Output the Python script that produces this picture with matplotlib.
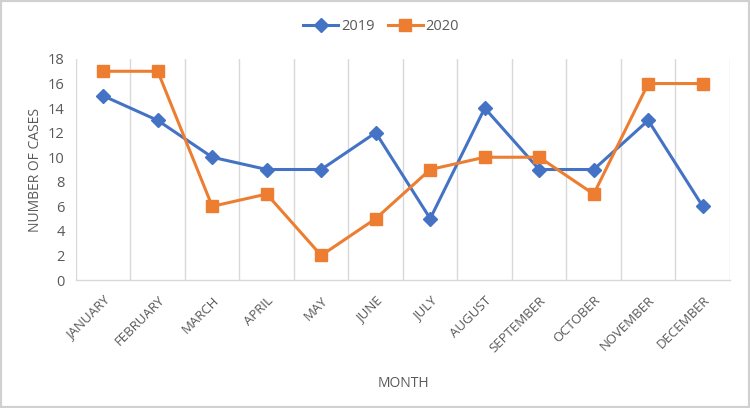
import matplotlib.pyplot as plt
from matplotlib.patches import Rectangle

# data
months = ["JANUARY", "FEBRUARY", "MARCH", "APRIL", "MAY", "JUNE", "JULY",
          "AUGUST", "SEPTEMBER", "OCTOBER", "NOVEMBER", "DECEMBER"]
cases_2019 = [15, 13, 10, 9, 9, 12, 5, 14, 9, 9, 13, 6]
cases_2020 = [17, 17, 6, 7, 2, 5, 9, 10, 10, 7, 16, 16]

plt.rcParams['font.family'] = ['Open Sans', 'DejaVu Sans']
txt = '#595959'
grid = '#D9D9D9'

fig = plt.figure(figsize=(7.5, 4.08), dpi=100)
ax = fig.add_axes([0.1013, 0.3137, 0.872, 0.5417])

x = list(range(len(months)))
ax.plot(x, cases_2019, color='#4472C4', lw=2.2, marker='D', ms=7,
        label='2019')
ax.plot(x, cases_2020, color='#ED7D31', lw=2.2, marker='s', ms=9,
        label='2020')

ax.set_xlim(-0.5, 11.5)
ax.set_ylim(0, 18)
ax.set_yticks(range(0, 19, 2))
ax.set_xticks(x)
ax.set_xticklabels(months, rotation=45, ha='right', rotation_mode='anchor',
                   fontsize=9.5, color=txt)
ax.tick_params(axis='x', length=0, pad=10)
ax.tick_params(axis='y', length=0, pad=8, labelsize=10.5, labelcolor=txt)

# vertical gridlines at category boundaries
for b in [i - 0.5 for i in range(len(months) + 1)]:
    ax.axvline(b, color=grid, lw=1, zorder=0)

for s in ['top', 'right', 'left']:
    ax.spines[s].set_visible(False)
ax.spines['bottom'].set_color(grid)
ax.spines['bottom'].set_linewidth(1)

ax.set_ylabel("NUMBER OF CASES", fontsize=10, color=txt, labelpad=4)
ax.set_xlabel("MONTH", fontsize=10, color=txt, labelpad=15)

fig.legend(loc='upper center', bbox_to_anchor=(0.508, 0.985), ncol=2,
           frameon=False, fontsize=10.5, labelcolor=txt, handlelength=2.4,
           columnspacing=0.9, handletextpad=0.2)

fig.patches.append(Rectangle((0, 0), 1, 1, transform=fig.transFigure,
                             fill=False, edgecolor='#D0D0D0', lw=3))

fig.savefig("out.png", dpi=100)
